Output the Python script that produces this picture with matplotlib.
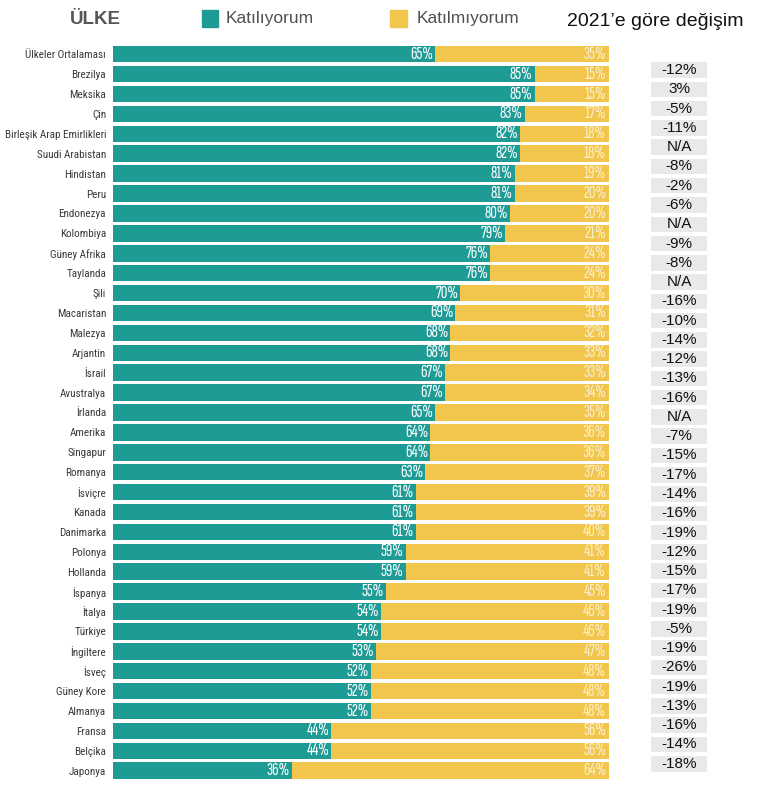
import matplotlib.pyplot as plt
from matplotlib.patches import Rectangle
import numpy as np

ulkeler = [
    "Ülkeler Ortalaması", "Brezilya", "Meksika", "Çin", "Birleşik Arap Emirlikleri",
    "Suudi Arabistan", "Hindistan", "Peru", "Endonezya", "Kolombiya", "Güney Afrika",
    "Taylanda", "Şili", "Macaristan", "Malezya", "Arjantin", "İsrail", "Avustralya",
    "İrlanda", "Amerika", "Singapur", "Romanya", "İsviçre", "Kanada", "Danimarka",
    "Polonya", "Hollanda", "İspanya", "İtalya", "Türkiye", "İngiltere", "İsveç",
    "Güney Kore", "Almanya", "Fransa", "Belçika", "Japonya",
]
katiliyorum = [65, 85, 85, 83, 82, 82, 81, 81, 80, 79, 76, 76, 70, 69, 68, 68, 67, 67,
               65, 64, 64, 63, 61, 61, 61, 59, 59, 55, 54, 54, 53, 52, 52, 52, 44, 44, 36]
katilmiyorum = [35, 15, 15, 17, 18, 18, 19, 20, 20, 21, 24, 24, 30, 31, 32, 33, 33, 34,
                35, 36, 36, 37, 39, 39, 40, 41, 41, 45, 46, 46, 47, 48, 48, 48, 56, 56, 64]
degisim = ["-12%", "3%", "-5%", "-11%", "N/A", "-8%", "-2%", "-6%", "N/A", "-9%", "-8%",
           "N/A", "-16%", "-10%", "-14%", "-12%", "-13%", "-16%", "N/A", "-7%", "-15%",
           "-17%", "-14%", "-16%", "-19%", "-12%", "-15%", "-17%", "-19%", "-5%", "-19%",
           "-26%", "-19%", "-13%", "-16%", "-14%", "-18%"]

teal = "#1f9b96"
sari = "#f2c64d"
dar = ["Roboto Condensed", "DejaVu Sans"]
cok_dar = ["Sofia Sans Extra Condensed", "Roboto Condensed", "DejaVu Sans"]
duz = ["Liberation Sans", "DejaVu Sans"]

fig = plt.figure(figsize=(7.7, 7.93), dpi=100)
ax = fig.add_axes([0.1468, 0.0155, 0.644, 0.9287])

y = np.arange(len(ulkeler))
agree = np.array(katiliyorum)
ax.barh(y, agree, height=0.83, color=teal)
ax.barh(y, 100 - agree, left=agree, height=0.83, color=sari)

for i in range(len(ulkeler)):
    ax.text(agree[i] - 0.4, y[i], f"{katiliyorum[i]}%", ha="right", va="center",
            color="white", fontsize=13, fontweight=300, family=cok_dar)
    ax.text(99.4, y[i], f"{katilmiyorum[i]}%", ha="right", va="center",
            color="#fcefcb", fontsize=13, fontweight=300, family=cok_dar)

ax.set_ylim(len(ulkeler) - 0.5, -0.5)
ax.set_xlim(0, 100)
ax.set_yticks(y)
ax.set_yticklabels(ulkeler, fontsize=8.0, family=dar, color="#3a3a3a")
ax.tick_params(axis="y", length=0, pad=5)
ax.set_xticks([])
for s in ax.spines.values():
    s.set_visible(False)

# 2021'e göre değişim sütunu (kendi satır aralığı var)
tr = ax.get_yaxis_transform()
for k, val in enumerate(degisim):
    yy = 0.80 + 0.968 * k
    ax.add_patch(Rectangle((1.085, yy - 0.39), 0.113, 0.78, transform=tr,
                           color="#e9e9e9", clip_on=False, lw=0))
    ax.text(1.1415, yy, val, transform=tr, ha="center", va="center",
            fontsize=11, family=duz, color="#111111", clip_on=False)

# başlık satırı
fig.text(70 / 770, 1 - 20 / 793, "ÜLKE", fontsize=13.5, fontweight="bold",
         family=duz, color="#555555", va="center", ha="left")
fig.patches.append(Rectangle((202 / 770, 1 - 27 / 793), 16 / 770, 17 / 793,
                             transform=fig.transFigure, color=teal, figure=fig))
fig.text(226 / 770, 1 - 18 / 793, "Katılıyorum", fontsize=12.5, family=duz,
         color="#505050", va="center", ha="left")
fig.patches.append(Rectangle((390 / 770, 1 - 27 / 793), 17 / 770, 17 / 793,
                             transform=fig.transFigure, color=sari, figure=fig))
fig.text(417 / 770, 1 - 18 / 793, "Katılmıyorum", fontsize=12.5, family=duz,
         color="#505050", va="center", ha="left")
fig.text(567 / 770, 1 - 21 / 793, "2021’e göre değişim", fontsize=14,
         family=duz, color="#111111", va="center", ha="left")

fig.savefig("out.png", dpi=100)
